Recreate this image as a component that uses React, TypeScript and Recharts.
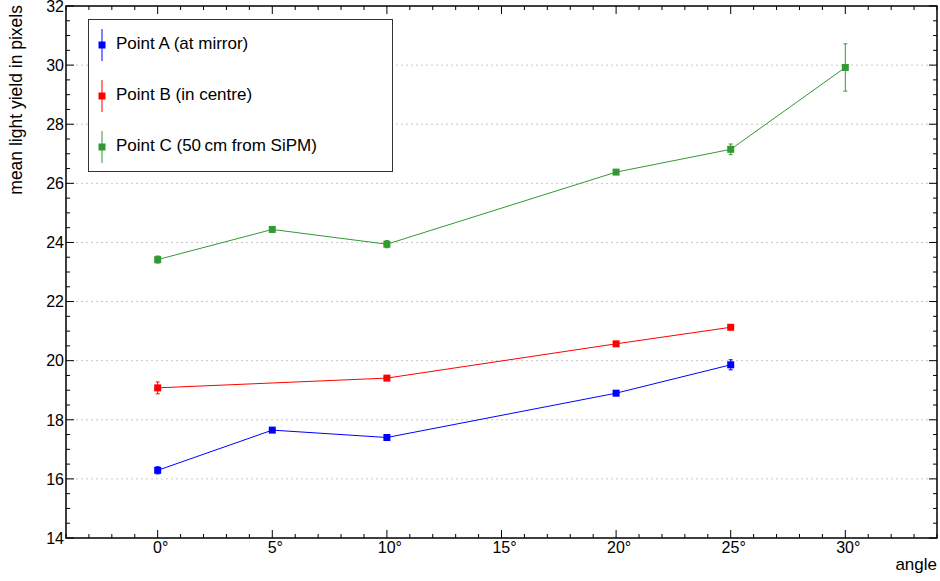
import {
  CartesianGrid,
  ErrorBar,
  Line,
  LineChart,
  ReferenceArea,
  XAxis,
  YAxis,
} from "recharts";

const W = 940;
const H = 581;
const PLOT_LEFT = 66;
const PLOT_TOP = 6;
const PLOT_RIGHT = 937;
const PLOT_BOTTOM = 538;
const X_AXIS_H = 30;
const Y_AXIS_W = 60;
const FONT = "'Liberation Sans', Arial, Helvetica, sans-serif";

// Point A (at mirror)
const ANGLES_A = [0, 5, 10, 20, 25];
const VALUES_A = [16.29, 17.65, 17.4, 18.9, 19.86];
const ERR_A = [0.12, 0.05, 0.05, 0.05, 0.17];

// Point B (in centre)
const ANGLES_B = [0, 10, 20, 25];
const VALUES_B = [19.08, 19.41, 20.57, 21.13];
const ERR_B = [0.2, 0.05, 0.05, 0.07];

// Point C (50 cm from SiPM)
const ANGLES_C = [0, 5, 10, 20, 25, 30];
const VALUES_C = [23.42, 24.44, 23.94, 26.38, 27.15, 29.92];
const ERR_C = [0.12, 0.05, 0.12, 0.05, 0.18, 0.8];

const X_DOMAIN = [-4, 34];
const Y_DOMAIN = [14, 32];
const X_TICKS = Array.from({ length: 39 }, (_, i) => i - 4);
const Y_TICKS = Array.from({ length: 37 }, (_, i) => 14 + i * 0.5);
const Y_GRID = [16, 18, 20, 22, 24, 26, 28, 30];

const toRows = (xs: number[], ys: number[], es: number[]) =>
  xs.map((x, i) => ({ angle: x, value: ys[i], err: es[i] }));

const series = [
  { name: "Point A (at mirror)", color: "#0000ff", data: toRows(ANGLES_A, VALUES_A, ERR_A) },
  { name: "Point B (in centre)", color: "#ff0000", data: toRows(ANGLES_B, VALUES_B, ERR_B) },
  { name: "Point C (50\u2009cm from SiPM)", color: "#339933", data: toRows(ANGLES_C, VALUES_C, ERR_C) },
];

// ticks point inward, drawn on both the bottom and the top edge
const XTick = (props: any) => {
  const { x, payload } = props;
  const v = payload.value;
  const major = v % 5 === 0;
  const len = major ? 8 : 4;
  return (
    <g>
      <line x1={x} x2={x} y1={PLOT_BOTTOM} y2={PLOT_BOTTOM - len} stroke="#000" />
      <line x1={x} x2={x} y1={PLOT_TOP} y2={PLOT_TOP + len} stroke="#000" />
      {major && (
        <text x={x + 3} y={553} textAnchor="middle" fontSize={16} fontFamily={FONT} fill="#000">
          {v}°
        </text>
      )}
    </g>
  );
};

// same for left and right edge
const YTick = (props: any) => {
  const { y, payload } = props;
  const v = payload.value;
  const major = v % 2 === 0;
  const len = major ? 8 : 4;
  return (
    <g>
      <line x1={PLOT_LEFT} x2={PLOT_LEFT + len} y1={y} y2={y} stroke="#000" />
      <line x1={PLOT_RIGHT} x2={PLOT_RIGHT - len} y1={y} y2={y} stroke="#000" />
      {major && (
        <text x={64} y={y} dy="0.36em" textAnchor="end" fontSize={16} fontFamily={FONT} fill="#000">
          {v}
        </text>
      )}
    </g>
  );
};

const squareDot = (color: string) => (p: any) => (
  <rect
    key={`${color}-${p.index}`}
    x={p.cx - 3.5}
    y={p.cy - 3.5}
    width={7}
    height={7}
    fill={color}
  />
);

function LegendBox() {
  return (
    <div
      style={{
        position: "absolute",
        left: 88,
        top: 19,
        width: 303,
        height: 151,
        border: "1px solid #333",
        background: "#fff",
        fontFamily: FONT,
        fontSize: 17,
      }}
    >
      {series.map((s, i) => (
        <div key={s.name}>
          <svg
            width={14}
            height={32}
            style={{ position: "absolute", left: 6, top: 9 + i * 51 }}
          >
            <line x1={7} x2={7} y1={0} y2={32} stroke={s.color} strokeWidth={1} />
            <rect x={3.5} y={12.5} width={7} height={7} fill={s.color} />
          </svg>
          <div
            style={{
              position: "absolute",
              left: 27,
              top: 14 + i * 51,
              lineHeight: "20px",
              whiteSpace: "nowrap",
              color: "#000",
            }}
          >
            {s.name}
          </div>
        </div>
      ))}
    </div>
  );
}

export default function App() {
  return (
    <div style={{ position: "absolute", left: 0, top: 0, width: W, height: H, background: "#fff" }}>
      <LineChart
        width={W}
        height={H}
        margin={{
          top: PLOT_TOP,
          right: W - PLOT_RIGHT,
          bottom: H - PLOT_BOTTOM - X_AXIS_H,
          left: PLOT_LEFT - Y_AXIS_W,
        }}
      >
        <CartesianGrid
          vertical={false}
          horizontalValues={Y_GRID}
          stroke="#c8c8c8"
          strokeDasharray="2 3"
        />
        <XAxis
          type="number"
          dataKey="angle"
          domain={X_DOMAIN}
          ticks={X_TICKS}
          interval={0}
          allowDataOverflow
          axisLine={false}
          tickLine={false}
          height={X_AXIS_H}
          tick={<XTick />}
        />
        <YAxis
          type="number"
          domain={Y_DOMAIN}
          ticks={Y_TICKS}
          interval={0}
          allowDataOverflow
          axisLine={false}
          tickLine={false}
          width={Y_AXIS_W}
          tick={<YTick />}
        />
        <ReferenceArea
          x1={X_DOMAIN[0]}
          x2={X_DOMAIN[1]}
          y1={Y_DOMAIN[0]}
          y2={Y_DOMAIN[1]}
          fill="none"
          fillOpacity={0}
          stroke="#000"
          strokeWidth={1.5}
          ifOverflow="visible"
        />
        {series.map((s) => (
          <Line
            key={s.name}
            data={s.data}
            dataKey="value"
            type="linear"
            stroke={s.color}
            strokeWidth={1}
            dot={squareDot(s.color)}
            activeDot={false}
            isAnimationActive={false}
          >
            <ErrorBar dataKey="err" direction="y" width={2} stroke={s.color} strokeWidth={1} />
          </Line>
        ))}
        <text
          x={21.5}
          y={5}
          transform="rotate(-90 21.5 5)"
          textAnchor="end"
          fontSize={17.5}
          fontFamily={FONT}
          fill="#000"
        >
          mean light yield in pixels
        </text>
        <text x={937} y={570} textAnchor="end" fontSize={17} fontFamily={FONT} fill="#000">
          angle
        </text>
      </LineChart>
      <LegendBox />
    </div>
  );
}
